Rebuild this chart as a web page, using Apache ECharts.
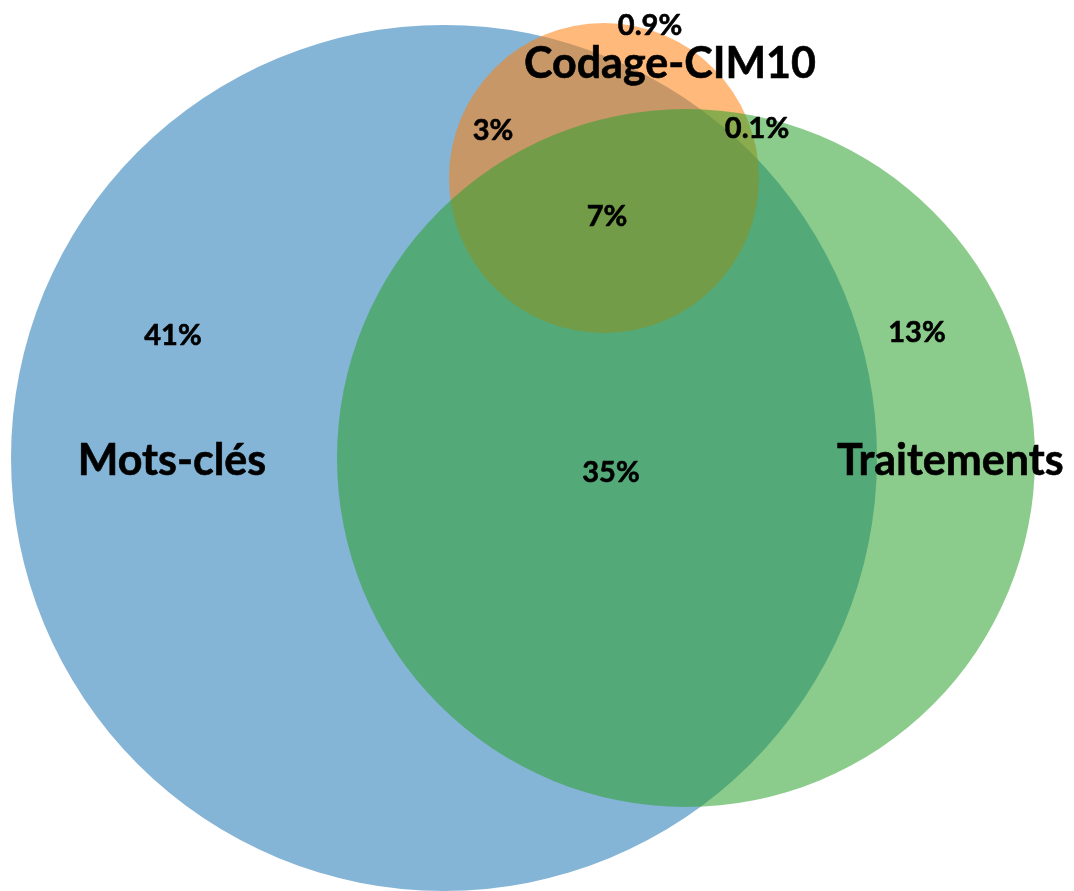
<!DOCTYPE html>
<html>
<head>
<meta charset="utf-8">
<script src="https://cdn.jsdelivr.net/npm/echarts@6/dist/echarts.min.js"></script>
<style>
  html, body { margin: 0; padding: 0; background: #fff; }
  #chart { width: 1074px; height: 891px; }
</style>
</head>
<body>
<div id="chart"></div>
<script>
// Venn sets (drawing order: Mots-clés, Codage-CIM10, Traitements)
const setNames = ['Mots-clés', 'Codage-CIM10', 'Traitements'];
const setColors = ['#1f77b4', '#ff7f0e', '#2ca02c'];
const circleX = [444, 604, 686];
const circleY = [458, 178, 458];
const circleR = [433, 155, 349];

// set name label positions
const nameX = [172, 670, 837];
const nameY = [461, 64, 461];
const nameAlign = ['center', 'center', 'left'];

// region percentages
const regionLabels = ['41%', '0.9%', '13%', '3%', '35%', '0.1%', '7%'];
const regionX = [173, 650, 917, 493, 611, 757, 607];
const regionY = [336, 26, 333, 131, 473, 129, 217];

const FONT = 'Lato, "Open Sans", sans-serif';

const chart = echarts.init(document.getElementById('chart'));

const circleData = setNames.map((n, i) => [circleX[i], circleY[i], circleR[i], i]);
const nameData = setNames.map((n, i) => [nameX[i], nameY[i], n, i]);
const regionData = regionLabels.map((t, i) => [regionX[i], regionY[i], t]);

chart.setOption({
    backgroundColor: '#ffffff',
    animation: false,
    grid: { left: 0, right: 0, top: 0, bottom: 0 },
    xAxis: { type: 'value', min: 0, max: 1074, show: false },
    yAxis: { type: 'value', min: 0, max: 891, inverse: true, show: false },
    series: [
        {
            type: 'custom',
            coordinateSystem: 'cartesian2d',
            data: circleData,
            silent: true,
            renderItem: (params, api) => {
                const c = api.coord([api.value(0), api.value(1)]);
                const r = api.size([api.value(2), 0])[0];
                return {
                    type: 'circle',
                    shape: { cx: c[0], cy: c[1], r: r },
                    style: { fill: setColors[api.value(3)], opacity: 0.55 }
                };
            }
        },
        {
            type: 'custom',
            coordinateSystem: 'cartesian2d',
            data: regionData,
            silent: true,
            z: 5,
            renderItem: (params, api) => {
                const p = api.coord([api.value(0), api.value(1)]);
                return {
                    type: 'text',
                    x: p[0], y: p[1],
                    style: {
                        text: regionData[params.dataIndex][2],
                        fill: '#000',
                        stroke: '#000',
                        lineWidth: 0.6,
                        font: 'bold 29px ' + FONT,
                        align: 'center',
                        verticalAlign: 'middle'
                    }
                };
            }
        },
        {
            type: 'custom',
            coordinateSystem: 'cartesian2d',
            data: nameData,
            silent: true,
            z: 6,
            renderItem: (params, api) => {
                const p = api.coord([api.value(0), api.value(1)]);
                const i = params.dataIndex;
                return {
                    type: 'text',
                    x: p[0], y: p[1],
                    style: {
                        text: setNames[i],
                        fill: '#000',
                        stroke: '#000',
                        lineWidth: 0.6,
                        font: 'bold 43px ' + FONT,
                        align: nameAlign[i],
                        verticalAlign: 'middle'
                    }
                };
            }
        }
    ]
});
</script>
</body>
</html>
